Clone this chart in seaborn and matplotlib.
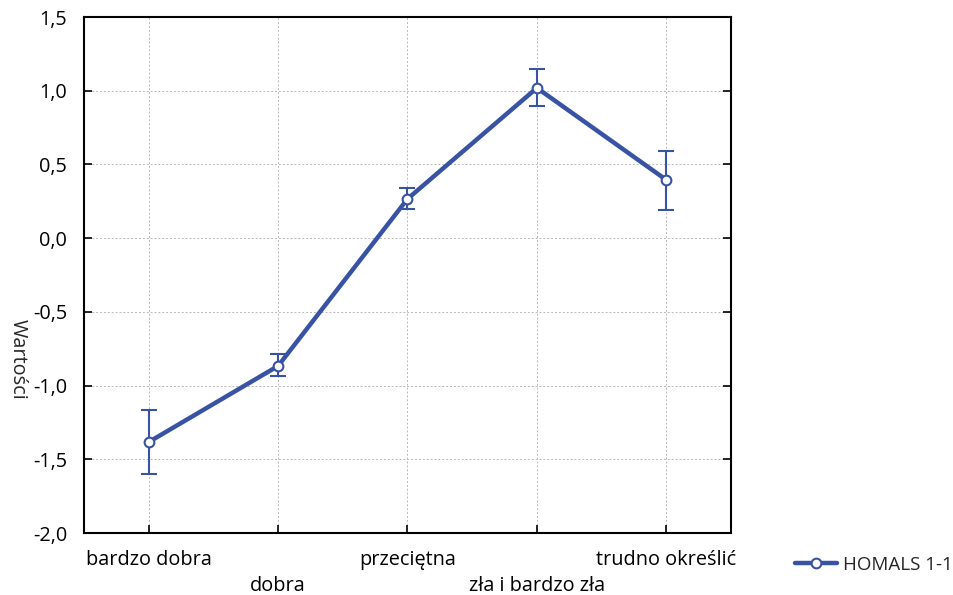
import matplotlib
matplotlib.use("Agg")
import matplotlib.pyplot as plt
import seaborn as sns
import pandas as pd
import numpy as np
from matplotlib.lines import Line2D

categories = ["bardzo dobra", "dobra", "przeciętna", "zła i bardzo zła", "trudno określić"]
values = [-1.383, -0.867, 0.266, 1.019, 0.395]
err_upper = [-1.166, -0.786, 0.340, 1.148, 0.592]
err_lower = [-1.600, -0.935, 0.198, 0.897, 0.191]
yticks = [-2.0, -1.5, -1.0, -0.5, 0.0, 0.5, 1.0, 1.5]
series_name = "HOMALS 1-1"

sns.set_theme(style="white")
plt.rcParams['font.family'] = ['Open Sans', 'DejaVu Sans']

FS = 14.3
color = "#3953a4"
df = pd.DataFrame({"x": np.arange(len(categories)), "y": values})

fig = plt.figure(figsize=(9.54, 5.95), dpi=100)
ax = fig.add_axes([84/954, 1-533/595, (731-84)/954, (533-17)/595])

yerr = np.array([np.array(values) - np.array(err_lower), np.array(err_upper) - np.array(values)])
ax.errorbar(df["x"], df["y"], yerr=yerr, fmt="none", ecolor=color, elinewidth=1.5,
            capsize=5.5, capthick=1.5, zorder=2)
sns.lineplot(data=df, x="x", y="y", ax=ax, color=color, linewidth=3.2, marker="o",
             markersize=7, markerfacecolor="white", markeredgecolor=color,
             markeredgewidth=1.5, zorder=3, legend=False)

ax.set_xlim(-0.5, 4.5)
ax.set_ylim(-2.0, 1.5)
ax.set_yticks(yticks)
ax.set_yticklabels([f"{v:.1f}".replace(".", ",") for v in yticks], fontsize=FS)
ax.set_xticks(df["x"])
ax.set_xticklabels([c if i % 2 == 0 else "\n" + c for i, c in enumerate(categories)],
                   fontsize=FS, linespacing=1.4)
ax.set_xlabel("")
ax.set_ylabel("Wartości", fontsize=FS, rotation=-90)
ax.yaxis.set_label_coords(-0.118, 0.337)

ax.grid(True, color="#b8b8b8", linestyle=(0, (2, 2)), linewidth=0.7)
for s in ax.spines.values():
    s.set_color("black")
    s.set_linewidth(1.5)
ax.tick_params(axis="both", direction="in", length=6, width=1.2, color="black",
               labelcolor="black", right=True, left=True, bottom=True, top=False)
ax.tick_params(axis="y", pad=12)
ax.tick_params(axis="x", pad=12)

h = Line2D([0], [0], color=color, linewidth=3.2, marker="o", markersize=7,
           markerfacecolor="white", markeredgecolor=color, markeredgewidth=1.5)
fig.legend([h], [series_name], loc="center right", bbox_to_anchor=(953/954, 1-565/595),
           frameon=False, fontsize=13.5, handlelength=2.2, handletextpad=0.35,
           borderpad=0, borderaxespad=0)

fig.savefig("out.png", dpi=100)
